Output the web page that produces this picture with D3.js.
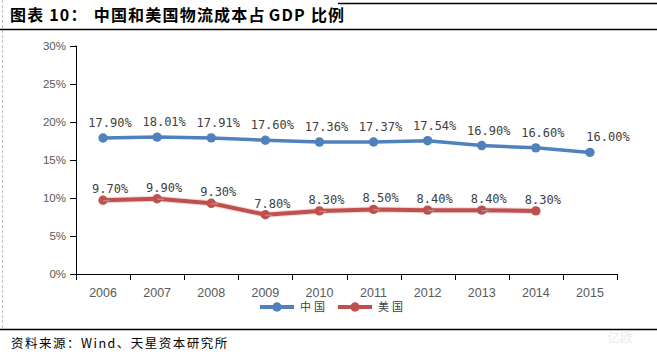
<!DOCTYPE html>
<html><head><meta charset="utf-8">
<script src="https://cdn.jsdelivr.net/npm/d3@7"></script>
<style>
html,body{margin:0;padding:0;background:#fff;}
svg{display:block;}
</style></head>
<body>
<svg id="c" width="657" height="355"></svg>
<script>
const years = ["2006","2007","2008","2009","2010","2011","2012","2013","2014","2015"];
const chinaValues = [17.90,18.01,17.91,17.60,17.36,17.37,17.54,16.90,16.60,16.00];
const usValues = [9.70,9.90,9.30,7.80,8.30,8.50,8.40,8.40,8.30,null];
const yTicks = [0,5,10,15,20,25,30];
const seriesNames = ["中国","美国"];

(function(){
const svg = d3.select("#c");
const W = 657;
const pL = 76, pR = 617, pT = 46, pB = 274;

const x = d3.scaleBand().domain(years).range([pL, pR]);
const y = d3.scaleLinear().domain([0,30]).range([pB, pT]);

// frame lines
svg.append("line").attr("x1",2.5).attr("x2",2.5).attr("y1",0).attr("y2",328)
  .attr("stroke","#bfbfbf").attr("stroke-dasharray","3,2");
svg.append("line").attr("x1",0).attr("x2",W).attr("y1",29.5).attr("y2",29.5).attr("stroke","#000").attr("stroke-width",1.3);
svg.append("line").attr("x1",338).attr("x2",W).attr("y1",3.5).attr("y2",3.5).attr("stroke","#000").attr("stroke-width",1.3);
svg.append("line").attr("x1",0).attr("x2",W).attr("y1",329.5).attr("y2",329.5).attr("stroke","#000").attr("stroke-width",1.3);

// title
const title = svg.append("text").attr("x",10).attr("y",21)
  .attr("font-family","'Noto Sans CJK SC'").attr("font-weight","bold").attr("font-size",16)
  .attr("letter-spacing",1.2).attr("fill","#000");
title.append("tspan").text("图表 10：");
title.append("tspan").attr("dx",6).text("中国和美国物流成本占");
title.append("tspan").attr("dx",3).text("GDP");
title.append("tspan").attr("dx",5).text("比例");

// source
svg.append("text").attr("x",11).attr("y",348)
  .attr("font-family","'Noto Sans CJK SC'").attr("font-size",12.5)
  .attr("letter-spacing",1.5).attr("fill","#000")
  .text("资料来源：Wind、天星资本研究所");

// watermark
svg.append("text").attr("x",620).attr("y",342).attr("text-anchor","middle")
  .attr("font-family","'Noto Sans CJK SC'").attr("font-size",13).attr("fill","#ececec")
  .text("亿欧");

// y axis
const yAxis = d3.axisLeft(y).tickValues(yTicks).tickSize(6).tickFormat(d => d + "%");
const gy = svg.append("g").attr("transform",`translate(${pL},0)`).call(yAxis);
gy.select(".domain").attr("stroke","#000").attr("d",`M-0.5,${pT}H0.5V${pB}`);
gy.selectAll(".tick line").attr("stroke","#000");
gy.selectAll(".tick text").attr("font-family","Arial, 'Liberation Sans'").attr("font-size",11.5)
  .attr("fill","#595959").attr("x",-10);

// x axis with ticks at boundaries
const gx = svg.append("g").attr("transform",`translate(0,${pB})`);
gx.append("line").attr("x1",pL).attr("x2",pR).attr("y1",0.5).attr("y2",0.5).attr("stroke","#000");
const bounds = years.map(d => x(d)).concat([x(years[years.length-1]) + x.bandwidth()]);
gx.selectAll("line.tk").data(bounds).enter().append("line").attr("class","tk")
  .attr("x1",d=>Math.round(d)+0.5).attr("x2",d=>Math.round(d)+0.5).attr("y1",0).attr("y2",6).attr("stroke","#000");
gx.selectAll("text").data(years).enter().append("text")
  .attr("x",d => x(d) + x.bandwidth()/2).attr("y",22.5).attr("text-anchor","middle")
  .attr("font-family","Arial, 'Liberation Sans'").attr("font-size",12.5).attr("fill","#595959")
  .text(d=>d);

const cx = d => x(d) + x.bandwidth()/2;
const colors = ["#4F81BD","#C0504D"];
const allSeries = [chinaValues, usValues];

allSeries.forEach((vals, si) => {
  const pts = years.map((yr,i)=>({yr, v: vals[i], i})).filter(p => p.v !== null);
  const line = d3.line().x(p=>cx(p.yr)).y(p=>y(p.v));
  if (si === 1) {
    svg.append("path").datum(pts).attr("d",line).attr("fill","none")
      .attr("stroke","#e6b9b8").attr("stroke-width",6).attr("stroke-linejoin","round").attr("opacity",0.6);
  }
  svg.append("path").datum(pts).attr("d",line).attr("fill","none")
    .attr("stroke",colors[si]).attr("stroke-width",si===0?3.5:4).attr("stroke-linejoin","round");
  svg.selectAll(null).data(pts).enter().append("circle")
    .attr("cx",p=>cx(p.yr)).attr("cy",p=>y(p.v)).attr("r",4.7).attr("fill",colors[si]);
  if (si === 1) {
    svg.selectAll(null).data(pts.slice(0, pts.length-1)).enter().append("line")
      .attr("x1",p=>cx(p.yr)).attr("x2",p=>cx(p.yr)+7).attr("y1",p=>y(p.v)+0.5).attr("y2",p=>y(p.v)+0.5)
      .attr("stroke","#a6a6a6").attr("stroke-width",1);
  }
  const dy = si === 0 ? -11 : -7;
  svg.selectAll(null).data(pts).enter().append("text")
    .attr("x",p=>cx(p.yr) + (si===0 && p.i===pts.length-1 ? 18 : 7))
    .attr("y",p=>y(p.v) + dy).attr("text-anchor","middle")
    .attr("font-family","'DejaVu Sans Mono'").attr("font-size",12).attr("fill","#404040")
    .text(p=>p.v.toFixed(2)+"%");
});

// legend
const legendX = [260, 338];
seriesNames.forEach((name, si) => {
  const g = svg.append("g").attr("transform",`translate(${legendX[si]},307)`);
  g.append("line").attr("x1",0).attr("x2",34).attr("y1",0).attr("y2",0).attr("stroke",colors[si]).attr("stroke-width",4);
  g.append("circle").attr("cx",17).attr("cy",0).attr("r",4.7).attr("fill",colors[si]);
  g.append("text").attr("x",40).attr("y",4).attr("font-family","'Noto Sans CJK SC'").attr("font-size",11)
    .attr("letter-spacing",3).attr("fill","#404040").text(name);
});
})();
</script>
</body></html>
